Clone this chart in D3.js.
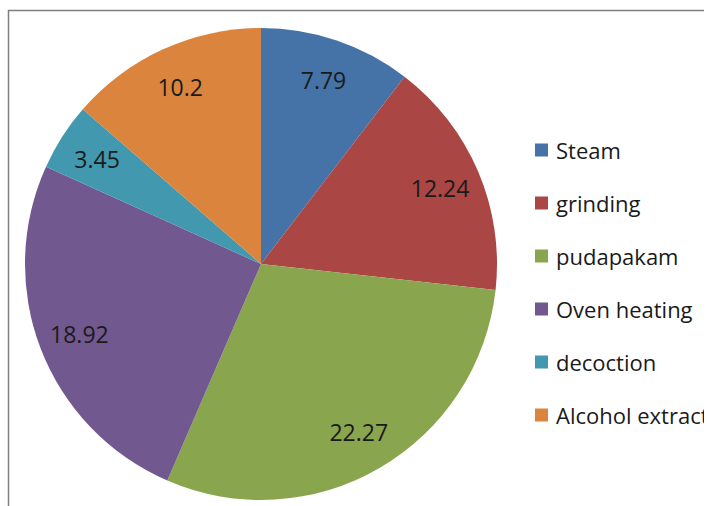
<!DOCTYPE html>
<html>
<head>
<meta charset="utf-8">
<script src="https://cdn.jsdelivr.net/npm/d3@7"></script>
<style>
  html, body { margin: 0; padding: 0; background: #fff; }
  svg { display: block; }
  text { font-family: "Open Sans", Lato, sans-serif; }
</style>
</head>
<body>
<svg id="chart" width="707" height="506"></svg>
<script>
// Share of each extraction method
const categories = ["Steam", "grinding", "pudapakam", "Oven heating", "decoction", "Alcohol extraction"];
const values = [7.79, 12.24, 22.27, 18.92, 3.45, 10.2];
const valueLabels = ["7.79", "12.24", "22.27", "18.92", "3.45", "10.2"];
const palette = ["#4572A7", "#AA4643", "#89A54E", "#71588F", "#4198AF", "#DB843D"];

const W = 707, H = 506;
const cx = 261, cy = 264, radius = 236;

const svg = d3.select("#chart");

// Chart area is cut off at the right edge of the frame
svg.append("defs").append("clipPath").attr("id", "frameClip")
  .append("rect").attr("x", 0).attr("y", 0).attr("width", 704).attr("height", H);

const root = svg.append("g").attr("clip-path", "url(#frameClip)");

// Frame: top and left edges
root.append("path")
  .attr("d", `M8.5,${H} V10.5 H704`)
  .attr("fill", "none")
  .attr("stroke", "#7f7f7f")
  .attr("stroke-width", 1.5);

const color = d3.scaleOrdinal().domain(categories).range(palette);

const pie = d3.pie().sort(null).value((d, i) => values[i]);
const arcs = pie(categories);

const arc = d3.arc().innerRadius(0).outerRadius(radius);
const labelArc = d3.arc().innerRadius(radius * 0.825).outerRadius(radius * 0.825);

const g = root.append("g").attr("transform", `translate(${cx},${cy})`);

g.selectAll("path.slice")
  .data(arcs)
  .join("path")
  .attr("class", "slice")
  .attr("d", arc)
  .attr("fill", d => color(d.data));

g.selectAll("text.value")
  .data(arcs)
  .join("text")
  .attr("class", "value")
  .attr("transform", d => `translate(${labelArc.centroid(d)})`)
  .attr("text-anchor", "middle")
  .attr("dominant-baseline", "central")
  .attr("font-size", 23)
  .attr("fill", "#1a1a1a")
  .text(d => valueLabels[d.index]);

// Legend
const legendY = d3.scalePoint().domain(categories).range([150, 415]);
const legend = root.append("g");
const item = legend.selectAll("g.item")
  .data(categories)
  .join("g")
  .attr("class", "item")
  .attr("transform", d => `translate(535,${legendY(d)})`);

item.append("rect")
  .attr("x", 0).attr("y", -6.5)
  .attr("width", 13).attr("height", 13)
  .attr("fill", d => color(d));

item.append("text")
  .attr("x", 21)
  .attr("y", 0)
  .attr("dominant-baseline", "central")
  .attr("font-size", 22)
  .attr("fill", "#1a1a1a")
  .text(d => d);
</script>
</body>
</html>
